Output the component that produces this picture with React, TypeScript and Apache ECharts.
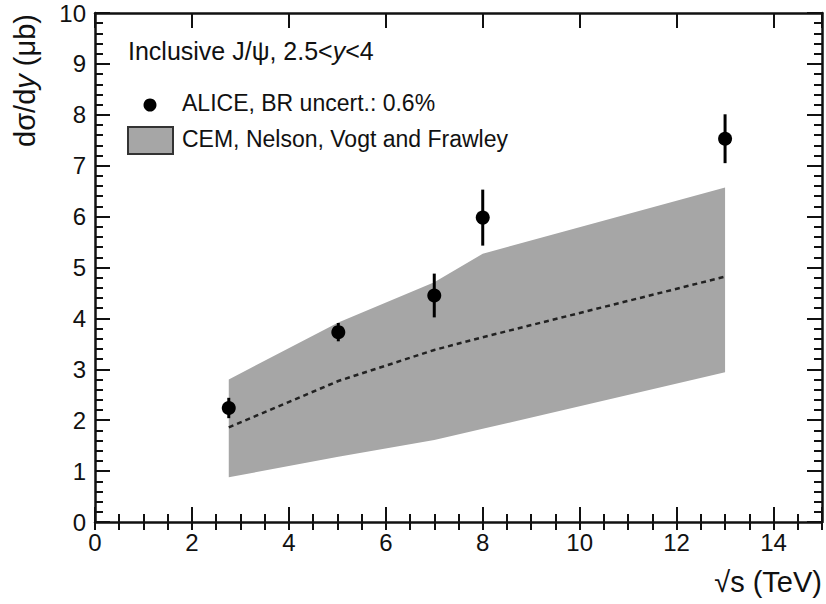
import React, { useEffect, useRef } from "react";
import * as echarts from "echarts";

// Collision energies (TeV) of the ALICE points
const energies = [2.76, 5.02, 7, 8, 13];
// Inclusive J/psi dsigma/dy (microbarn) and total uncertainty
const crossSections = [2.24, 3.73, 4.45, 5.98, 7.53];
const uncertainties = [0.2, 0.18, 0.43, 0.55, 0.48];

// CEM (Nelson, Vogt and Frawley) band and central curve
const modelEnergies = [2.76, 5.02, 7, 8, 13];
const modelUpper = [2.8, 3.92, 4.71, 5.27, 6.57];
const modelLower = [0.88, 1.28, 1.61, 1.83, 2.94];
const modelCentral = [1.86, 2.77, 3.38, 3.63, 4.82];

const FONT = "'Liberation Sans', Arial, Helvetica, sans-serif";
const INK = "#111111";
const BAND = "#a6a6a6";

export default function App() {
  const ref = useRef<HTMLDivElement>(null);

  useEffect(() => {
    if (!ref.current) return;
    const chart = echarts.init(ref.current, null, { renderer: "svg" });

    const frameLine = { show: true, onZero: false, lineStyle: { color: INK, width: 2.5 } };
    const majorTick = { show: true, inside: true, length: 15, lineStyle: { color: INK, width: 2 } };
    const minorTickX = { show: true, inside: true, length: 8, lineStyle: { color: INK, width: 2 } };

    const xCommon = { type: "value", min: 0, max: 15, splitLine: { show: false } };
    const yCommon = {
      type: "value",
      min: 0,
      max: 10,
      interval: 1,
      splitLine: { show: false },
      axisLine: frameLine,
      axisTick: majorTick,
      minorTick: { show: true, splitNumber: 5, length: 8, lineStyle: { color: INK, width: 2 } },
    };

    const errorData = energies.map((e, i) => [
      e,
      crossSections[i] - uncertainties[i],
      crossSections[i] + uncertainties[i],
    ]);

    const option = {
      animation: false,
      backgroundColor: "#ffffff",
      textStyle: { fontFamily: FONT },
      grid: { left: 95, right: 4, top: 13, bottom: 82, containLabel: false },
      xAxis: [
        {
          ...xCommon,
          position: "bottom",
          interval: 2,
          axisLine: frameLine,
          axisTick: majorTick,
          axisLabel: {
            show: true,
            margin: 8,
            fontSize: 24,
            color: INK,
            fontFamily: FONT,
            formatter: (v: number) => (v % 2 === 0 ? String(v) : ""),
          },
        },
        {
          ...xCommon,
          position: "bottom",
          interval: 0.5,
          axisLine: { show: false },
          axisTick: minorTickX,
          axisLabel: { show: false },
        },
        {
          ...xCommon,
          position: "top",
          interval: 2,
          axisLine: frameLine,
          axisTick: majorTick,
          axisLabel: { show: false },
        },
        {
          ...xCommon,
          position: "top",
          interval: 0.5,
          axisLine: { show: false },
          axisTick: minorTickX,
          axisLabel: { show: false },
        },
      ],
      yAxis: [
        {
          ...yCommon,
          position: "left",
          axisLabel: { show: true, margin: 9, fontSize: 24, color: INK, fontFamily: FONT },
        },
        {
          ...yCommon,
          position: "right",
          axisLabel: { show: false },
        },
      ],
      series: [
        {
          name: "CEM band",
          type: "custom",
          xAxisIndex: 0,
          yAxisIndex: 0,
          z: 1,
          data: [0],
          renderItem: (_params: any, api: any) => {
            const pts: number[][] = [];
            modelEnergies.forEach((e, i) => pts.push(api.coord([e, modelUpper[i]])));
            for (let i = modelEnergies.length - 1; i >= 0; i--) {
              pts.push(api.coord([modelEnergies[i], modelLower[i]]));
            }
            return {
              type: "polygon",
              shape: { points: pts },
              style: { fill: BAND, stroke: "none" },
            };
          },
        },
        {
          name: "CEM central",
          type: "line",
          xAxisIndex: 0,
          yAxisIndex: 0,
          z: 2,
          symbol: "none",
          data: modelEnergies.map((e, i) => [e, modelCentral[i]]),
          lineStyle: { color: "#222222", width: 2.5, type: [5, 4] },
        },
        {
          name: "ALICE errors",
          type: "custom",
          xAxisIndex: 0,
          yAxisIndex: 0,
          z: 3,
          data: errorData,
          renderItem: (_params: any, api: any) => {
            const lo = api.coord([api.value(0), api.value(1)]);
            const hi = api.coord([api.value(0), api.value(2)]);
            return {
              type: "line",
              shape: { x1: lo[0], y1: lo[1], x2: hi[0], y2: hi[1] },
              style: { stroke: "#000000", lineWidth: 3 },
            };
          },
        },
        {
          name: "ALICE",
          type: "scatter",
          xAxisIndex: 0,
          yAxisIndex: 0,
          z: 4,
          symbol: "circle",
          symbolSize: 14,
          itemStyle: { color: "#000000", opacity: 1 },
          data: energies.map((e, i) => [e, crossSections[i]]),
        },
      ],
      graphic: [
        {
          type: "text",
          left: 128,
          top: 38,
          style: {
            text: "Inclusive J/ψ, 2.5<{i|y}<4",
            font: `25px ${FONT}`,
            fill: INK,
            rich: { i: { fontStyle: "italic", fontSize: 25, fontFamily: FONT, fill: INK } },
          },
        },
        {
          type: "circle",
          shape: { cx: 150, cy: 105, r: 6.5 },
          style: { fill: "#000000" },
        },
        {
          type: "text",
          left: 182,
          top: 91,
          style: { text: "ALICE, BR uncert.: 0.6%", font: `23px ${FONT}`, fill: INK },
        },
        {
          type: "rect",
          shape: { x: 128, y: 127, width: 45, height: 27 },
          style: { fill: BAND, stroke: "#333333", lineWidth: 2 },
        },
        {
          type: "text",
          left: 182,
          top: 127,
          style: { text: "CEM, Nelson, Vogt and Frawley", font: `23px ${FONT}`, fill: INK },
        },
        {
          type: "text",
          x: 25,
          y: 14,
          rotation: Math.PI / 2,
          style: {
            text: "dσ/d{i|y} (μb)",
            font: `29px ${FONT}`,
            fill: INK,
            align: "right",
            verticalAlign: "middle",
            rich: { i: { fontStyle: "italic", fontSize: 29, fontFamily: FONT, fill: INK } },
          },
        },
        {
          type: "text",
          x: 822,
          y: 582,
          style: {
            text: "√s (TeV)",
            font: `29px ${FONT}`,
            fill: INK,
            align: "right",
            verticalAlign: "middle",
          },
        },
      ],
    };

    chart.setOption(option as any);
    return () => chart.dispose();
  }, []);

  return (
    <div
      ref={ref}
      style={{ position: "fixed", left: 0, top: 0, width: 826, height: 604, background: "#fff" }}
    />
  );
}
